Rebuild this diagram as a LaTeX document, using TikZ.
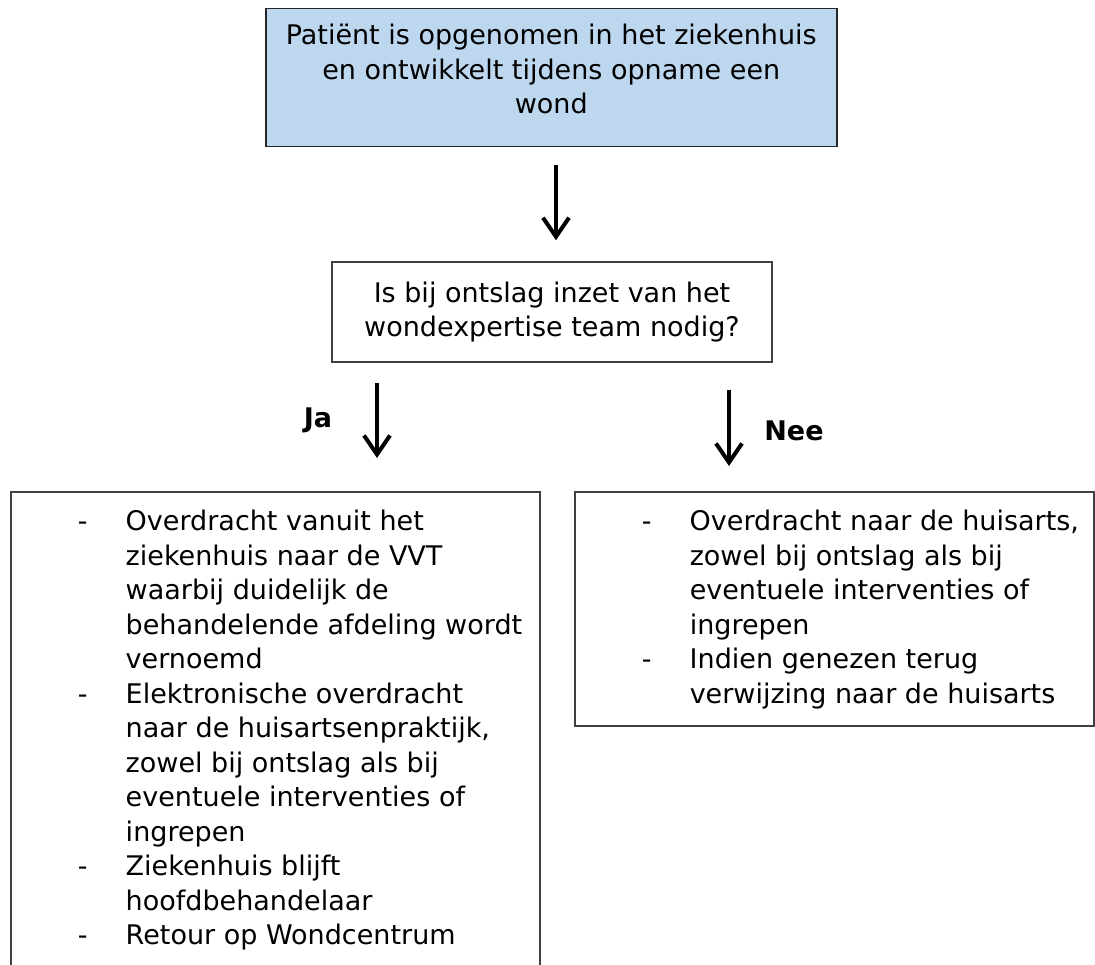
\documentclass[tikz,border=0pt]{standalone}
\usepackage{fontspec}
\setmainfont{DejaVu Sans}
\usepackage{tikz}
\usetikzlibrary{arrows.meta}
\usetikzlibrary{positioning}
\usetikzlibrary{calc}

\definecolor{boxblue}{HTML}{BDD7EE}
\definecolor{boxline}{HTML}{404040}

% one line of a list with a hanging dash
\newcommand{\dashitem}[1]{\par\noindent\hangindent=115pt\hangafter=1\hspace*{67pt}\makebox[48pt][l]{-}\strut#1\par}
% text box with fixed size, text at the top
\newcommand{\topblock}[4]{\parbox[c][#2][t]{#1}{\vspace*{#3}#4}}

\begin{document}
\begin{tikzpicture}[x=1pt, y=-1pt,
                    every node/.style={font=\fontsize{27pt}{34.5pt}\selectfont},
                    box/.style={draw=boxline, line width=1.5pt, inner sep=0pt, fill=white},
                    arr/.style={line width=4pt, -{Straight Barb[length=19pt, width=26pt, line width=4pt]}},
                    lbl/.style={font=\fontsize{27pt}{34.5pt}\selectfont\bfseries}
                ]
                \useasboundingbox (0,0) rectangle (1095,965);
                \clip (0,0) rectangle (1095,965);

                \node[box, fill=boxblue, draw=black!85, anchor=north west] (top) at (265,8)
                    {\topblock{571pt}{138pt}{12pt}{\centering\strut Patiënt is opgenomen in het ziekenhuis\\ en ontwikkelt tijdens opname een\\ wond}};

                \node[box, minimum width=440pt, minimum height=100pt, align=center] (q) at (552,312)
                    {Is bij ontslag inzet van het\\ wondexpertise team nodig?};

                \node[box, anchor=north west] (ja box) at (10,491)
                    {\topblock{529pt}{520pt}{15pt}{%
                        \dashitem{Overdracht vanuit het\\ ziekenhuis naar de VVT\\ waarbij duidelijk de\\ behandelende afdeling wordt\\ vernoemd}
                        \dashitem{Elektronische overdracht\\ naar de huisartsenpraktijk,\\ zowel bij ontslag als bij\\ eventuele interventies of\\ ingrepen}
                        \dashitem{Ziekenhuis blijft\\ hoofdbehandelaar}
                        \dashitem{Retour op Wondcentrum}}};

                \node[box, anchor=north west] (nee box) at (574,491)
                    {\topblock{519pt}{234pt}{15pt}{%
                        \dashitem{Overdracht naar de huisarts,\\ zowel bij ontslag als bij\\ eventuele interventies of\\ ingrepen}
                        \dashitem{Indien genezen terug\\ verwijzing naar de huisarts}}};

                \coordinate (ja) at (377,362);
                \coordinate (nee) at (729,362);
                \coordinate (down) at (556,146);

                \draw[arr, shorten <=19pt, shorten >=21pt] (down) -- (down |- q.north);
                \draw[arr, shorten <=21pt, shorten >=33pt] (ja) -- (ja |- ja box.north);
                \draw[arr, shorten <=28pt, shorten >=25pt] (nee) -- (nee |- nee box.north);

                \node[lbl] (ja label) at (318,420) {Ja};
                \node[lbl] (nee label) at (794,431) {Nee};
            \end{tikzpicture}
\end{document}
